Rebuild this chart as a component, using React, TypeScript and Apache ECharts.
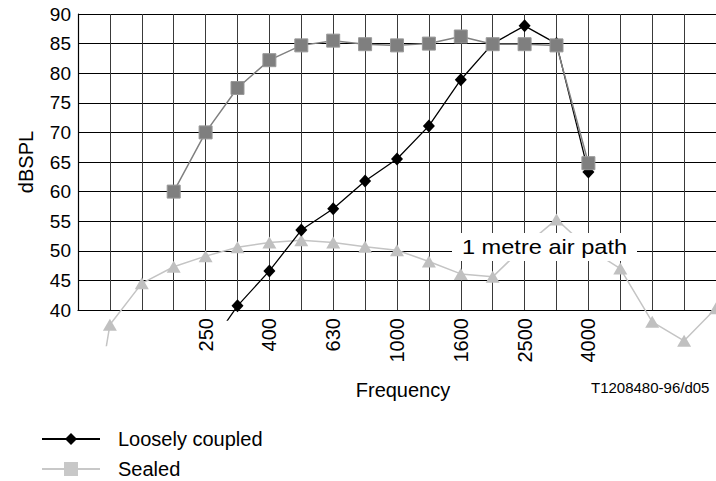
import React, { useEffect, useRef } from "react";
import * as echarts from "echarts";

const categories = ["100", "125", "160", "200", "250", "315", "400", "500", "630", "800", "1000", "1250", "1600", "2000", "2500", "3150", "4000", "5000", "6300", "8000", "10000"];
const labeledTicks = ["250", "400", "630", "1000", "1600", "2500", "4000"];

const looselyCoupled = [null, null, null, null, 32.9, 40.7, 46.6, 53.5, 57.1, 61.8, 65.5, 71.1, 78.9, 85.0, 88.0, 85.0, 63.3, null, null, null, null];
const sealed = [null, null, null, 60, 70, 77.5, 82.2, 84.7, 85.5, 84.9, 84.7, 85.0, 86.2, 84.9, 84.9, 84.7, 64.8, null, null, null, null];
const airPath = [5, 37.5, 44.5, 47.3, 49.1, 50.6, 51.4, 51.8, 51.4, 50.7, 50.1, 48.2, 46.1, 45.6, 50.8, 55.3, 50.4, 47.0, 38.0, 34.8, 40.3];

const Y_MIN = 40;
const Y_MAX = 90;
const Y_STEP = 5;
const AIR_MIN = 34;
const LOOSE_MIN = 38.3;

const FONT = "'Liberation Sans', Arial, sans-serif";
const GRID_LEFT = 78;
const GRID_TOP = 14;
const GRID_W = 640;
const GRID_H = 296;
const hFor = (min: number) => (GRID_H * (Y_MAX - min)) / (Y_MAX - Y_MIN);

export default function App() {
  const ref = useRef<HTMLDivElement>(null);
  useEffect(() => {
    if (!ref.current) return;
    const chart = echarts.init(ref.current, null, { renderer: "svg" });
    const hiddenX = (gridIndex: number) => ({
      type: "category",
      gridIndex,
      data: categories,
      boundaryGap: false,
      show: false,
    });
    const hiddenY = (gridIndex: number, min: number) => ({
      type: "value",
      gridIndex,
      min,
      max: Y_MAX,
      show: false,
    });
    chart.setOption({
      animation: false,
      textStyle: { fontFamily: FONT },
      grid: [
        { left: GRID_LEFT, top: GRID_TOP, width: GRID_W, height: GRID_H },
        { left: GRID_LEFT, top: GRID_TOP, width: GRID_W, height: hFor(AIR_MIN) },
        { left: GRID_LEFT, top: GRID_TOP, width: GRID_W, height: hFor(LOOSE_MIN) },
      ],
      xAxis: [
        {
          type: "category",
          gridIndex: 0,
          data: categories,
          boundaryGap: false,
          name: "Frequency",
          nameLocation: "middle",
          nameGap: 70,
          nameTextStyle: { fontSize: 20, color: "#000", fontFamily: FONT, padding: [0, 0, 0, 12] },
          axisLine: { lineStyle: { color: "#000", width: 1.2 } },
          axisTick: { show: false },
          axisLabel: {
            interval: 0,
            rotate: 90,
            margin: 8,
            fontSize: 20,
            color: "#000",
            fontFamily: FONT,
            formatter: (v: string) => (labeledTicks.includes(v) ? v : ""),
          },
          splitLine: { show: true, interval: 0, lineStyle: { color: "#3a3a3a", width: 1 } },
        },
        hiddenX(1),
        hiddenX(2),
      ],
      yAxis: [
        {
          type: "value",
          gridIndex: 0,
          min: Y_MIN,
          max: Y_MAX,
          interval: Y_STEP,
          name: "dBSPL",
          nameLocation: "middle",
          nameRotate: 90,
          nameGap: 42,
          nameTextStyle: { fontSize: 20, color: "#000", fontFamily: FONT },
          axisLine: { show: true, lineStyle: { color: "#000", width: 1.2 } },
          axisTick: { show: false },
          axisLabel: { fontSize: 19, color: "#000", margin: 7, fontFamily: FONT },
          splitLine: { show: true, lineStyle: { color: "#000", width: 1 } },
        },
        hiddenY(1, AIR_MIN),
        hiddenY(2, LOOSE_MIN),
      ],
      legend: {
        orient: "vertical",
        left: 36,
        top: 424,
        width: 300,
        height: 120,
        itemWidth: 58,
        itemHeight: 15,
        itemGap: 10,
        selectedMode: false,
        textStyle: { fontSize: 20, color: "#000", fontFamily: FONT, padding: [0, 0, 0, 13] },
        data: [
          "Loosely coupled",
          {
            name: "Sealed",
            itemStyle: { color: "#c8c8c8", borderColor: "#c8c8c8" },
            lineStyle: { color: "#c8c8c8" },
          },
        ],
      },
      series: [
        {
          name: "1 metre air path",
          type: "line",
          xAxisIndex: 1,
          yAxisIndex: 1,
          data: airPath,
          clip: true,
          symbol: "triangle",
          symbolSize: [14, 12],
          itemStyle: { color: "#c0c0c0" },
          lineStyle: { color: "#c4c4c4", width: 1.5 },
          z: 2,
          silent: true,
        },
        {
          name: "Loosely coupled",
          type: "line",
          xAxisIndex: 2,
          yAxisIndex: 2,
          data: looselyCoupled,
          clip: true,
          symbol: "diamond",
          symbolSize: [12, 13],
          itemStyle: { color: "#000" },
          lineStyle: { color: "#000", width: 1.3 },
          z: 3,
          silent: true,
        },
        {
          name: "Sealed",
          type: "line",
          xAxisIndex: 0,
          yAxisIndex: 0,
          data: sealed,
          symbol: "rect",
          symbolSize: 13,
          itemStyle: { color: "#7f7f7f", borderColor: "#999", borderWidth: 1 },
          lineStyle: { color: "#808080", width: 1.5 },
          z: 4,
          silent: true,
        },
      ],
      graphic: [
        {
          type: "rect",
          z: 100,
          shape: { x: 452, y: 233, width: 185, height: 28 },
          style: { fill: "#fff" },
          silent: true,
        },
        {
          type: "text",
          z: 101,
          x: 544.5,
          y: 247,
          scaleX: 1.18,
          style: {
            text: "1 metre air path",
            fontSize: 20,
            fontFamily: FONT,
            fill: "#000",
            align: "center",
            verticalAlign: "middle",
          },
          silent: true,
        },
        {
          type: "text",
          z: 101,
          x: 591,
          y: 387,
          style: {
            text: "T1208480-96/d05",
            fontSize: 15,
            fontFamily: FONT,
            fill: "#000",
            align: "left",
            verticalAlign: "middle",
          },
          silent: true,
        },
      ],
    });
    return () => chart.dispose();
  }, []);
  return (
    <div
      ref={ref}
      style={{ position: "absolute", left: 0, top: 0, width: 716, height: 481 }}
    />
  );
}
